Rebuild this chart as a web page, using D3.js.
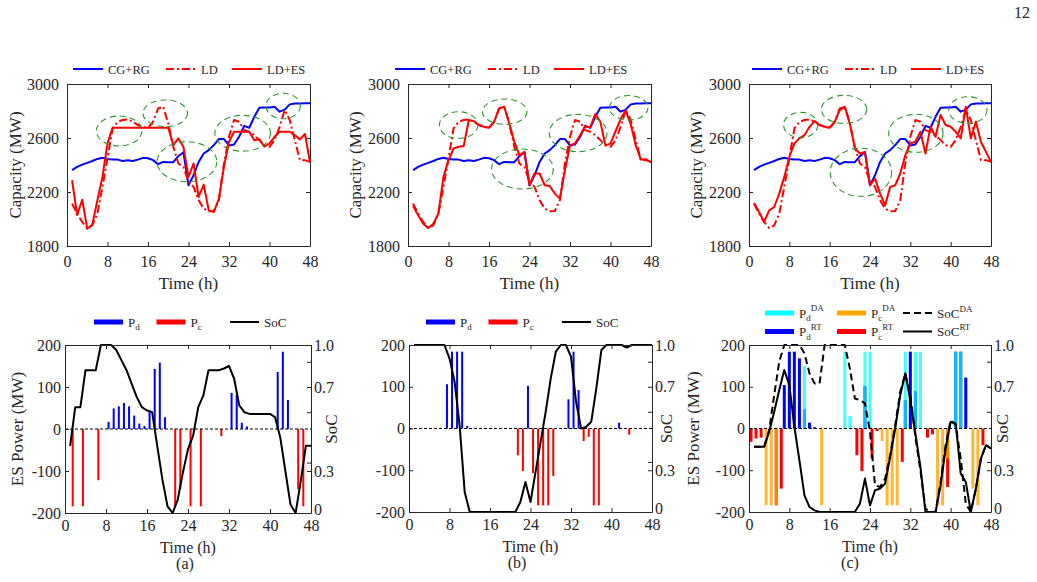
<!DOCTYPE html>
<html>
<head>
<meta charset="utf-8">
<script src="https://cdn.jsdelivr.net/npm/d3@7/dist/d3.min.js"></script>
<style>
  body { margin: 0; background: #fff; }
  svg text { font-family: "Liberation Serif", "Times New Roman", serif; fill: #262626; }
</style>
</head>
<body>
<svg id="fig" width="1037" height="582"></svg>
<script>
// ---- data (hour 1..48) ----
const hours = d3.range(1, 49);
const xTicks = [0, 8, 16, 24, 32, 40, 48];
const capTicks = [1800, 2200, 2600, 3000];
const powTicks = [-200, -100, 0, 100, 200];
const socTicks = [0, 0.25, 0.75, 1];
const socTickLabels = ['0', '0.3', '0.7', '1.0'];
const socMinorTicks = [0.3, 0.6, 0.9];

const cgrg = [2362,2386,2403,2416,2430,2445,2453,2445,2440,2440,
              2430,2435,2430,2440,2453,2450,2436,2406,2423,2421,
              2421,2465,2495,2250,2324,2423,2485,2510,2547,2592,
              2592,2545,2552,2609,2690,2676,2757,2824,2826,2826,
              2832,2795,2810,2849,2856,2856,2858,2858];

const ld = [2114,2040,1978,1933,1953,2040,2238,2450,2671,2720,
            2733,2738,2720,2696,2683,2676,2720,2819,2832,2708,
            2535,2411,2386,2275,2238,2139,2077,2057,2059,2139,
            2411,2609,2733,2720,2658,2646,2621,2584,2547,2535,
            2584,2683,2807,2733,2584,2436,2436,2423];

const ldesA = [2287,2030,2143,1928,1958,2139,2312,2560,2676,2676,
               2676,2676,2676,2676,2676,2676,2676,2676,2676,2676,
               2547,2597,2535,2312,2411,2163,2255,2064,2052,2151,
               2386,2572,2646,2646,2646,2646,2584,2590,2535,2560,
               2609,2646,2646,2646,2620,2590,2630,2420];

const ldesB = [2097,2027,1965,1933,1965,2040,2312,2436,2522,2535,
               2540,2733,2725,2696,2683,2676,2720,2819,2832,2708,
               2572,2473,2497,2250,2337,2337,2250,2245,2188,2151,
               2361,2545,2560,2620,2685,2680,2778,2720,2545,2558,
               2650,2740,2805,2700,2545,2440,2443,2420];

const ldesC = [2119,2052,1978,2064,2089,2188,2312,2460,2560,2597,
               2621,2683,2725,2696,2683,2676,2720,2807,2832,2708,
               2522,2485,2497,2250,2300,2188,2101,2238,2250,2337,
               2473,2560,2572,2646,2485,2683,2609,2770,2696,2683,
               2646,2597,2832,2597,2720,2572,2497,2423];

// highlighted regions: [hour, MW, half-width (h), half-height (MW)]
const ellA = [[10.3,2652,4.5,111],[19.4,2783,4.4,99],[23.7,2424,5.9,148],[34.7,2635,5.5,133],[42.7,2837,3.4,94]];
const ellB = [[10.0,2696,3.8,99],[19.1,2795,4.4,94],[22.6,2370,6.1,148],[33.6,2637,5.7,138],[43.6,2824,3.8,91]];
const ellC = [[10.25,2696,3.4,94],[18.85,2812,4.5,104],[22.2,2346,6.1,178],[33.1,2635,5.4,141],[43.4,2807,3.8,99]];

// ES power (MW), discharge positive, charge negative
const pdA = [0,0,0,0,0,0,0,0,17,49,
             54,62,54,32,13,7,44,143,158,28,
             0,0,0,0,0,0,0,0,0,0,
             0,0,86,81,15,6,0,0,0,0,
             0,136,184,69,0,0,0,0];
const pcA = [0,-184,0,-184,0,0,-122,0,0,0,
             0,0,0,0,0,0,0,0,0,0,
             0,-184,-143,0,-184,0,-184,0,0,0,
             -17,0,0,0,0,0,0,0,0,0,
             0,0,0,0,0,-143,-184,0];
const socA = [0.40,0.63,0.63,0.85,0.85,0.85,1.00,1.00,1.00,0.97,
              0.91,0.85,0.77,0.69,0.63,0.61,0.60,0.40,0.20,0.04,
              0.00,0.08,0.24,0.38,0.46,0.63,0.70,0.85,0.85,0.85,
              0.86,0.875,0.80,0.64,0.60,0.59,0.59,0.59,0.59,0.59,
              0.57,0.45,0.25,0.05,0.00,0.19,0.40,0.40];

const pdB = [0,0,0,0,0,0,0,106,184,184,
             184,6,0,0,0,0,0,0,0,0,
             0,0,0,102,0,0,0,0,0,0,
             0,70,184,92,0,0,0,0,0,0,
             0,14,0,0,0,0,0,0];
const pcB = [0,0,0,0,0,0,0,0,0,0,
             0,0,0,0,0,0,0,0,0,0,
             0,-64,-102,0,-107,-184,-184,-184,-114,0,
             0,0,0,0,-30,-20,-184,-184,0,0,
             0,0,0,-15,0,0,0,0];
const socB = [1,1,1,1,1,1,1,0.92,0.78,0.52,
              0.12,0,0,0,0,0,0,0,0,0,
              0,0.06,0.18,0.06,0.24,0.42,0.60,0.80,0.96,1,
              1,0.93,0.66,0.50,0.51,0.54,0.74,0.97,1,1,
              1,1,0.985,1,1,1,1,1];

const pdDA = [0,0,0,0,0,0,0,0,0,0,
              150,0,0,0,0,0,0,0,184,30,
              0,0,184,184,0,0,0,0,0,0,
              184,0,184,184,0,0,0,0,0,0,
              184,184,0,0,0,0,0,0];
const pdRT = [0,0,0,0,0,0,104,184,184,168,
              46,14,3,0,0,0,0,0,0,0,
              0,0,102,0,0,0,0,0,0,0,
              68,184,90,0,0,0,0,0,0,0,
              184,184,122,0,0,0,0,0];
const pcDA = [0,0,0,-184,-184,-184,0,0,0,0,
              0,0,0,0,-184,0,0,0,0,0,
              0,0,0,0,0,0,-30,-184,-184,-184,
              0,0,0,0,0,0,0,-184,-184,-72,
              0,0,0,0,-144,-184,0,0];
const pcRT = [-32,-24,-22,0,0,-184,-144,0,0,0,
              0,0,0,0,0,0,0,0,0,0,
              0,-64,-102,0,-72,-6,0,0,0,0,
              -80,0,0,0,0,-22,-14,0,0,-140,
              0,0,0,0,0,0,-40,0];
const socDA = [0.39,0.39,0.39,0.49,0.70,0.90,1,1,1,1,
               0.95,0.83,0.77,0.77,1,1,1,1,1,0.86,
               0.68,0.67,0.65,0.48,0.16,0.15,0.20,0.34,0.52,0.72,
               0.83,0.70,0.45,0.25,0.02,0,0,0.18,0.40,0.55,
               0.52,0.32,0.05,0,0.14,0.32,0.40,0.38];
const socRT = [0.39,0.39,0.39,0.48,0.60,0.73,0.85,0.76,0.51,0.31,
               0.10,0.03,0.01,0,0,0,0,0,0,0,
               0,0.05,0.20,0.04,0.13,0.14,0.17,0.33,0.50,0.70,
               0.83,0.67,0.47,0.27,0,0,0,0.16,0.38,0.54,
               0.53,0.23,0.18,0,0.14,0.32,0.40,0.38];

const ink = '#262626';
const plain = d => String(d);   // no thousands comma, plain hyphen minus
const svg = d3.select('#fig');

function styleAxis(g, size){
  g.attr('font-family', null).attr('font-size', null);
  g.selectAll('text').style('font-size', size + 'px');
  g.selectAll('line, path').style('stroke', ink);
}

class CapacityChart{
  constructor(opts){
    this.box = opts.box;
    this.solid = opts.solid;
    this.ellipses = opts.ellipses;
    this.legendX = opts.legendX;
    this.titleX = opts.titleX;
    this.draw();
  }

  draw(){
    const b = this.box;
    this.plot = svg.append('g')
                   .attr('transform', `translate(${b.x},${b.y})`);
    this.createScales();
    this.addAxes();
    this.addLines();
    this.addEllipses();
    this.addLegend();
    this.addLabels();
  }

  createScales(){
    this.xScale = d3.scaleLinear().domain([0, 48]).range([0, this.box.w]);
    this.yScale = d3.scaleLinear().domain([1800, 3000]).range([this.box.h, 0]);
  }

  addAxes(){
    const w = this.box.w, h = this.box.h;
    this.plot.append('g')
             .attr('transform', `translate(0,${h})`)
             .call(d3.axisBottom(this.xScale).tickValues(xTicks).tickFormat(plain)
                     .tickSize(-4).tickSizeOuter(0).tickPadding(10))
             .call(g => styleAxis(g, 16));
    this.plot.append('g')
             .call(d3.axisTop(this.xScale).tickValues(xTicks).tickSize(-4).tickSizeOuter(0).tickFormat(''))
             .call(g => styleAxis(g, 16));
    this.plot.append('g')
             .call(d3.axisLeft(this.yScale).tickValues(capTicks).tickFormat(plain)
                     .tickSize(-4).tickSizeOuter(0).tickPadding(8))
             .call(g => styleAxis(g, 16));
    this.plot.append('g')
             .attr('transform', `translate(${w},0)`)
             .call(d3.axisRight(this.yScale).tickValues(capTicks).tickSize(-4).tickSizeOuter(0).tickFormat(''))
             .call(g => styleAxis(g, 16));
  }

  addLines(){
    const line = d3.line()
                   .x(d => this.xScale(d[0]))
                   .y(d => this.yScale(d[1]));
    const series = [
      {vals: cgrg, color: '#0000ff', dash: null},
      {vals: ld, color: '#ff0000', dash: '8,3,2,3'},
      {vals: this.solid, color: '#ff0000', dash: null}
    ];
    series.forEach(s => {
      this.plot.append('path')
               .datum(hours.map((t, i) => [t, s.vals[i]]))
               .attr('d', line)
               .style('fill', 'none')
               .style('stroke', s.color)
               .style('stroke-width', 2)
               .style('stroke-dasharray', s.dash)
               .style('stroke-linejoin', 'round');
    });
  }

  addEllipses(){
    const x = this.xScale, y = this.yScale;
    this.plot.selectAll('.ring')
             .data(this.ellipses)
             .join('ellipse')
             .attr('class', 'ring')
             .attr('cx', d => x(d[0]))
             .attr('cy', d => y(d[1]))
             .attr('rx', d => x(d[2]) - x(0))
             .attr('ry', d => y(1800) - y(1800 + d[3]))
             .style('fill', 'none')
             .style('stroke', '#2e962e')
             .style('stroke-width', 1.1)
             .style('stroke-dasharray', '6,4');
  }

  addLegend(){
    const items = [
      {name: 'CG+RG', color: '#0000ff', dash: null, dx: 0},
      {name: 'LD', color: '#ff0000', dash: '8,3,2,3', dx: 93},
      {name: 'LD+ES', color: '#ff0000', dash: null, dx: 159}
    ];
    const lg = svg.append('g').attr('transform', `translate(${this.legendX},69)`);
    items.forEach(it => {
      lg.append('line')
        .attr('x1', it.dx).attr('x2', it.dx + 30)
        .style('stroke', it.color).style('stroke-width', 2)
        .style('stroke-dasharray', it.dash);
      lg.append('text')
        .attr('x', it.dx + 35).attr('y', 4.5)
        .style('font-size', '12.5px')
        .text(it.name);
    });
  }

  addLabels(){
    const b = this.box;
    svg.append('text')
       .attr('x', b.x + b.w / 2).attr('y', b.y + b.h + 43)
       .attr('text-anchor', 'middle')
       .style('font-size', '17px')
       .text('Time (h)');
    svg.append('text')
       .attr('transform', `translate(${this.titleX},${b.y + b.h / 2}) rotate(-90)`)
       .attr('text-anchor', 'middle')
       .style('font-size', '17px')
       .text('Capacity (MW)');
  }
}

class StorageChart{
  constructor(opts){
    this.box = opts.box;
    this.bars = opts.bars;
    this.soc = opts.soc;
    this.barW = opts.barW;
    this.legend = opts.legend;
    this.legendX = opts.legendX;
    this.powTitleX = opts.powTitleX;
    this.socTitleX = opts.socTitleX;
    this.caption = opts.caption;
    this.draw();
  }

  draw(){
    const b = this.box;
    this.plot = svg.append('g')
                   .attr('transform', `translate(${b.x},${b.y})`);
    this.createScales();
    this.addBars();
    this.addZeroLine();
    this.addSoc();
    this.addAxes();
    this.addLegend();
    this.addLabels();
  }

  createScales(){
    this.xScale = d3.scaleLinear().domain([0, 48]).range([0, this.box.w]);
    this.yScale = d3.scaleLinear().domain([-200, 200]).range([this.box.h, 0]);
    this.socScale = d3.scaleLinear().domain([0, 1]).range([this.box.h, 0]);
  }

  addBars(){
    const w = this.barW;
    this.bars.forEach(s => {
      const data = hours.map((t, i) => ({t: t, v: s.vals[i]})).filter(d => d.v !== 0);
      this.plot.append('g')
               .selectAll('rect')
               .data(data)
               .join('rect')
               .attr('x', d => this.xScale(d.t + s.shift) - w / 2)
               .attr('y', d => this.yScale(Math.max(d.v, 0)))
               .attr('width', w)
               .attr('height', d => Math.abs(this.yScale(d.v) - this.yScale(0)))
               .style('fill', s.color)
               .style('fill-opacity', s.alpha || 1);
    });
  }

  addZeroLine(){
    this.plot.append('line')
             .attr('x1', 0).attr('x2', this.box.w)
             .attr('y1', this.yScale(0)).attr('y2', this.yScale(0))
             .style('stroke', '#000')
             .style('stroke-width', 1.2)
             .style('stroke-dasharray', '3,2');
  }

  addSoc(){
    const line = d3.line()
                   .x(d => this.xScale(d[0]))
                   .y(d => this.socScale(d[1]));
    this.soc.forEach(s => {
      this.plot.append('path')
               .datum(hours.map((t, i) => [t, s.vals[i]]))
               .attr('d', line)
               .style('fill', 'none')
               .style('stroke', '#000')
               .style('stroke-width', 2)
               .style('stroke-dasharray', s.dash)
               .style('stroke-linejoin', 'round');
    });
  }

  addAxes(){
    const w = this.box.w, h = this.box.h;
    this.plot.append('g')
             .attr('transform', `translate(0,${h})`)
             .call(d3.axisBottom(this.xScale).tickValues(xTicks).tickFormat(plain)
                     .tickSize(-4).tickSizeOuter(0).tickPadding(7))
             .call(g => styleAxis(g, 16));
    this.plot.append('g')
             .call(d3.axisTop(this.xScale).tickValues(xTicks).tickSize(-4).tickSizeOuter(0).tickFormat(''))
             .call(g => styleAxis(g, 16));
    this.plot.append('g')
             .call(d3.axisLeft(this.yScale).tickValues(powTicks).tickFormat(plain)
                     .tickSize(-4).tickSizeOuter(0).tickPadding(4))
             .call(g => styleAxis(g, 16));
    this.plot.append('g')
             .attr('transform', `translate(${w},0)`)
             .call(d3.axisRight(this.socScale).tickValues(socTicks).tickSize(-4).tickSizeOuter(0).tickPadding(3)
                     .tickFormat((d, i) => socTickLabels[i]))
             .call(g => styleAxis(g, 16))
             .call(g => g.selectAll('.tick text').filter(d => d === 0).attr('dy', '0.1em'));
    this.plot.append('g')
             .attr('transform', `translate(${w},0)`)
             .call(d3.axisRight(this.socScale).tickValues(socMinorTicks).tickSize(-4).tickSizeOuter(0).tickFormat(''))
             .call(g => g.select('.domain').remove())
             .call(g => styleAxis(g, 16));
  }

  addLegend(){
    const lg = svg.append('g').attr('transform', `translate(${this.legendX},0)`);
    this.legend.forEach(it => {
      if (it.kind === 'bar') {
        lg.append('rect')
          .attr('x', it.dx).attr('y', it.y - 2.5)
          .attr('width', 29).attr('height', 5)
          .style('fill', it.color);
      } else {
        lg.append('line')
          .attr('x1', it.dx).attr('x2', it.dx + 29)
          .attr('y1', it.y).attr('y2', it.y)
          .style('stroke', '#000').style('stroke-width', 2)
          .style('stroke-dasharray', it.dash);
      }
      const t = lg.append('text')
                  .attr('x', it.dx + 34).attr('y', it.y + 4.5)
                  .style('font-size', '13px');
      t.append('tspan').text(it.main);
      if (it.sub) t.append('tspan').attr('dy', 3.5).style('font-size', '9px').text(it.sub);
      if (it.sup) t.append('tspan').attr('dy', it.sub ? -10 : -6).style('font-size', '9px').text(it.sup);
    });
  }

  addLabels(){
    const b = this.box;
    svg.append('text')
       .attr('x', b.x + b.w / 2).attr('y', b.y + b.h + 40)
       .attr('text-anchor', 'middle')
       .style('font-size', '16px')
       .text('Time (h)');
    svg.append('text')
       .attr('x', this.caption[1]).attr('y', b.y + b.h + 56)
       .attr('text-anchor', 'middle')
       .style('font-size', '16px')
       .text(this.caption[0]);
    if (this.powTitleX !== null) {
      svg.append('text')
         .attr('transform', `translate(${this.powTitleX},${b.y + b.h / 2}) rotate(-90)`)
         .attr('text-anchor', 'middle')
         .style('font-size', '17px')
         .text('ES Power (MW)');
    }
    svg.append('text')
       .attr('transform', `translate(${this.socTitleX},${b.y + b.h / 2}) rotate(-90)`)
       .attr('text-anchor', 'middle')
       .style('font-size', '17px')
       .text('SoC');
  }
}

// ---- top row ----
new CapacityChart({box: {x: 67, y: 84, w: 243, h: 162}, solid: ldesA, ellipses: ellA, legendX: 73, titleX: 21});
new CapacityChart({box: {x: 408, y: 84, w: 243, h: 162}, solid: ldesB, ellipses: ellB, legendX: 395, titleX: 361});
new CapacityChart({box: {x: 749, y: 84, w: 242, h: 162}, solid: ldesC, ellipses: ellC, legendX: 752, titleX: 702});

// ---- bottom row ----
const simpleLegend = [
  {kind: 'bar', color: '#0000ff', main: 'P', sub: 'd', dx: 0, y: 322},
  {kind: 'bar', color: '#ff0000', main: 'P', sub: 'c', dx: 62.5, y: 322},
  {kind: 'line', dash: null, main: 'SoC', dx: 136, y: 322}
];
const fullLegend = [
  {kind: 'bar', color: '#00ffff', main: 'P', sub: 'd', sup: 'DA', dx: 0, y: 313},
  {kind: 'bar', color: '#ffa500', main: 'P', sub: 'c', sup: 'DA', dx: 72, y: 313},
  {kind: 'line', dash: '7,4', main: 'SoC', sup: 'DA', dx: 138, y: 313},
  {kind: 'bar', color: '#0000ff', main: 'P', sub: 'd', sup: 'RT', dx: 0, y: 331.5},
  {kind: 'bar', color: '#ff0000', main: 'P', sub: 'c', sup: 'RT', dx: 72, y: 331.5},
  {kind: 'line', dash: null, main: 'SoC', sup: 'RT', dx: 138, y: 331.5}
];

new StorageChart({
  box: {x: 65, y: 345, w: 246, h: 168}, barW: 2,
  bars: [{vals: pdA, color: '#0000ff', shift: -0.5}, {vals: pcA, color: '#ff0000', shift: -0.5}],
  soc: [{vals: socA, dash: null}],
  legend: simpleLegend, legendX: 94, powTitleX: 23, socTitleX: 337, caption: ['(a)', 185]
});
new StorageChart({
  box: {x: 409, y: 345, w: 243, h: 167}, barW: 2,
  bars: [{vals: pdB, color: '#0000ff', shift: -0.5}, {vals: pcB, color: '#ff0000', shift: -0.5}],
  soc: [{vals: socB, dash: null}],
  legend: simpleLegend, legendX: 426, powTitleX: null, socTitleX: 672, caption: ['(b)', 517]
});
new StorageChart({
  box: {x: 749, y: 345, w: 242, h: 167}, barW: 3,
  bars: [
    {vals: pdRT, color: '#0000ff', shift: 0},
    {vals: pcRT, color: '#ff0000', shift: -0.6},
    {vals: pdDA, color: '#00ffff', shift: 0, alpha: 0.75},
    {vals: pcDA, color: '#ffa500', shift: -0.6, alpha: 0.8}
  ],
  soc: [{vals: socDA, dash: '7,4'}, {vals: socRT, dash: null}],
  legend: fullLegend, legendX: 765, powTitleX: 699, socTitleX: 1008, caption: ['(c)', 850]
});

// page number
svg.append('text')
   .attr('x', 1030).attr('y', 18)
   .attr('text-anchor', 'end')
   .style('font-size', '16px')
   .text('12');
</script>
</body>
</html>
